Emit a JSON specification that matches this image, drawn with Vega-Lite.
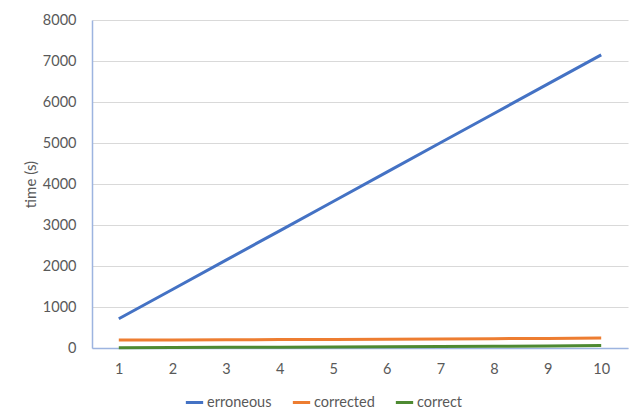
{
  "$schema": "https://vega.github.io/schema/vega-lite/v6.json",
  "autosize": "none",
  "width": 536,
  "height": 328,
  "padding": {"left": 92, "top": 20, "right": 4, "bottom": 68},
  "background": "white",
  "config": {
    "font": "Lato",
    "view": {"stroke": null},
    "axis": {
      "labelColor": "#595959",
      "titleColor": "#595959",
      "labelFontSize": 14.5,
      "titleFontWeight": "normal",
      "ticks": false,
      "domainColor": "#9db4e0",
      "domainWidth": 1.5,
      "gridColor": "#d9d9d9"
    },
    "legend": {
      "labelColor": "#595959",
      "labelFontSize": 14.5
    }
  },
  "data": {
    "values": [
      {"n": 1, "series": "erroneous", "time": 712},
      {"n": 2, "series": "erroneous", "time": 1428},
      {"n": 3, "series": "erroneous", "time": 2143},
      {"n": 4, "series": "erroneous", "time": 2858},
      {"n": 5, "series": "erroneous", "time": 3574},
      {"n": 6, "series": "erroneous", "time": 4290},
      {"n": 7, "series": "erroneous", "time": 5005},
      {"n": 8, "series": "erroneous", "time": 5720},
      {"n": 9, "series": "erroneous", "time": 6435},
      {"n": 10, "series": "erroneous", "time": 7150},
      {"n": 1, "series": "corrected", "time": 195},
      {"n": 2, "series": "corrected", "time": 198},
      {"n": 3, "series": "corrected", "time": 201},
      {"n": 4, "series": "corrected", "time": 205},
      {"n": 5, "series": "corrected", "time": 210},
      {"n": 6, "series": "corrected", "time": 215},
      {"n": 7, "series": "corrected", "time": 221},
      {"n": 8, "series": "corrected", "time": 228},
      {"n": 9, "series": "corrected", "time": 234},
      {"n": 10, "series": "corrected", "time": 242},
      {"n": 1, "series": "correct", "time": 8},
      {"n": 2, "series": "correct", "time": 12},
      {"n": 3, "series": "correct", "time": 16},
      {"n": 4, "series": "correct", "time": 20},
      {"n": 5, "series": "correct", "time": 25},
      {"n": 6, "series": "correct", "time": 30},
      {"n": 7, "series": "correct", "time": 36},
      {"n": 8, "series": "correct", "time": 43},
      {"n": 9, "series": "correct", "time": 50},
      {"n": 10, "series": "correct", "time": 58}
    ]
  },
  "mark": {"type": "line", "strokeWidth": 3},
  "encoding": {
    "x": {
      "field": "n",
      "type": "ordinal",
      "scale": {"type": "point", "padding": 0.5},
      "axis": {"title": null, "labelAngle": 0, "labelPadding": 14, "grid": false}
    },
    "y": {
      "field": "time",
      "type": "quantitative",
      "scale": {"domain": [0, 8000]},
      "axis": {
        "title": "time (s)",
        "titleFontSize": 15,
        "format": "d",
        "values": [0, 1000, 2000, 3000, 4000, 5000, 6000, 7000, 8000],
        "labelPadding": 16,
        "titlePadding": 4,
        "grid": true
      }
    },
    "color": {
      "field": "series",
      "type": "nominal",
      "scale": {
        "domain": ["erroneous", "corrected", "correct"],
        "range": ["#4472c4", "#ed7d31", "#4e8a32"]
      },
      "legend": {
        "title": null,
        "orient": "none",
        "direction": "horizontal",
        "legendX": 92,
        "legendY": 372,
        "symbolType": "stroke",
        "symbolStrokeWidth": 3,
        "symbolSize": 300,
        "labelOffset": 2,
        "columnPadding": 14
      }
    }
  }
}
